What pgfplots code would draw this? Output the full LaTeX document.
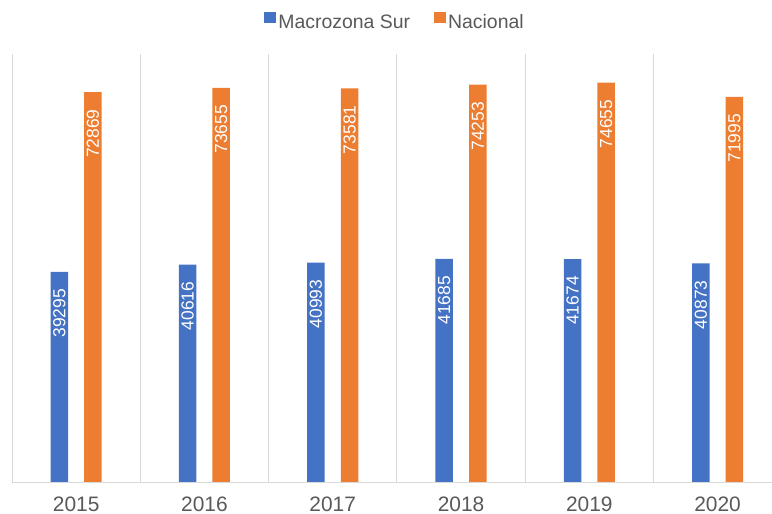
\documentclass[border=0pt]{standalone}
\usepackage{fontspec}
\setmainfont{Liberation Sans}
\usepackage{pgfplots}
\pgfplotsset{compat=1.18}
\definecolor{MzBlue}{HTML}{4472C4}
\definecolor{NcOrange}{HTML}{ED7D31}
\definecolor{TxGray}{HTML}{595959}
\definecolor{GrLine}{HTML}{D9D9D9}
\begin{document}
\begin{tikzpicture}
\useasboundingbox (-12bp,-32bp) rectangle (760bp,482bp);
\begin{axis}[
  at={(0,0)}, anchor=south west,
  scale only axis,
  width=760bp, height=428bp,
  xmin=-0.5, xmax=5.424,
  ymin=0, ymax=80000,
  axis x line*=bottom,
  axis y line=none,
  axis line style={draw=GrLine, line width=0.8pt, -},
  xtick={0,1,2,3,4,5},
  xticklabels={2015,2016,2017,2018,2019,2020},
  major tick length=0pt,
  minor xtick={-0.5,0.5,1.5,2.5,3.5,4.5},
  minor tick length=0pt,
  xminorgrids=true,
  minor grid style={draw=GrLine, line width=0.8pt},
  xticklabel style={font=\fontsize{21}{24}\selectfont, text=TxGray, yshift=-11bp},
  ybar, bar width=17.5bp,
  point meta=rawy,
  nodes near coords={\pgfmathprintnumber[fixed,precision=0,1000 sep={},assume math mode=true]{\pgfplotspointmeta}},
  every node near coord/.append style={font=\fontsize{17.5}{20}\selectfont, text=white, rotate=90, anchor=east, inner sep=0pt, xshift=-17bp},
  legend columns=2,
  legend style={at={(0.504,1)}, anchor=center, yshift=32bp, draw=none, fill=none,
    font=\fontsize{19.5}{22}\selectfont, text=TxGray,
    /tikz/every even column/.append style={column sep=22bp}},
  legend image code/.code={\fill[#1] (0bp,-1bp) rectangle (12bp,10bp);},
]
  \addplot[fill=MzBlue, draw=none, bar shift=-16.8bp] coordinates {(0,39295) (1,40616) (2,40993) (3,41685) (4,41674) (5,40873)};
  \addplot[fill=NcOrange, draw=none, bar shift=16.8bp] coordinates {(0,72869) (1,73655) (2,73581) (3,74253) (4,74655) (5,71995)};
  \legend{Macrozona Sur,Nacional}
\end{axis}
\end{tikzpicture}
\end{document}
